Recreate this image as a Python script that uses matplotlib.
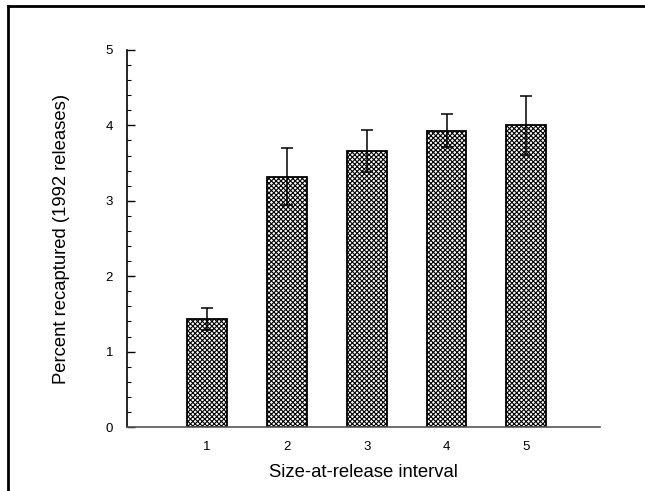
import numpy as np
import matplotlib
matplotlib.use("Agg")
import matplotlib.pyplot as plt
from matplotlib.lines import Line2D

plt.rcParams['font.family'] = ['Liberation Sans', 'DejaVu Sans']
plt.rcParams['hatch.linewidth'] = 0.8

# data
intervals = ["1", "2", "3", "4", "5"]
percent = [1.43, 3.32, 3.66, 3.93, 4.00]
err = [0.15, 0.38, 0.28, 0.22, 0.39]

fig = plt.figure(figsize=(6.45, 4.91), dpi=100)
ax = fig.add_axes([0.197, 0.1303, 0.733, 0.768])

x = np.arange(1, len(intervals) + 1)
ax.bar(x, percent, width=0.5, color="white", edgecolor="black",
       hatch="xxxxxxx", linewidth=1.3, zorder=2)
ax.errorbar(x, percent, yerr=err, fmt="none", ecolor="black",
            elinewidth=1.1, capsize=4.5, capthick=1.1, zorder=3)

ax.set_xlim(0, 5.92)
ax.set_ylim(0, 5)
ax.set_xticks(x)
ax.set_xticklabels(intervals)
ax.set_yticks(range(6))
ax.set_yticks(np.arange(0, 5.01, 0.2), minor=True)
ax.tick_params(axis="y", which="major", direction="in", length=6, width=1,
               labelsize=9.5, pad=10)
ax.tick_params(axis="y", which="minor", direction="in", length=3, width=0.8)
ax.tick_params(axis="x", which="major", direction="in", length=4, width=0.8,
               labelsize=9.5, pad=10)

for s in ["top", "right"]:
    ax.spines[s].set_visible(False)
ax.spines["left"].set_linewidth(1.2)
ax.spines["bottom"].set_linewidth(1.2)
ax.spines["bottom"].set_color("#555555")

ax.set_ylabel("Percent recaptured (1992 releases)", fontsize=13.3, labelpad=26)
ax.set_xlabel("Size-at-release interval", fontsize=13.3, labelpad=8)

# page frame (top and left edges)
fig.add_artist(Line2D([8 / 645, 1.0], [1 - 6 / 491, 1 - 6 / 491],
                      transform=fig.transFigure, color="black", lw=2))
fig.add_artist(Line2D([8 / 645, 8 / 645], [0, 1 - 6 / 491],
                      transform=fig.transFigure, color="black", lw=2))

fig.savefig("out.png", dpi=100)
